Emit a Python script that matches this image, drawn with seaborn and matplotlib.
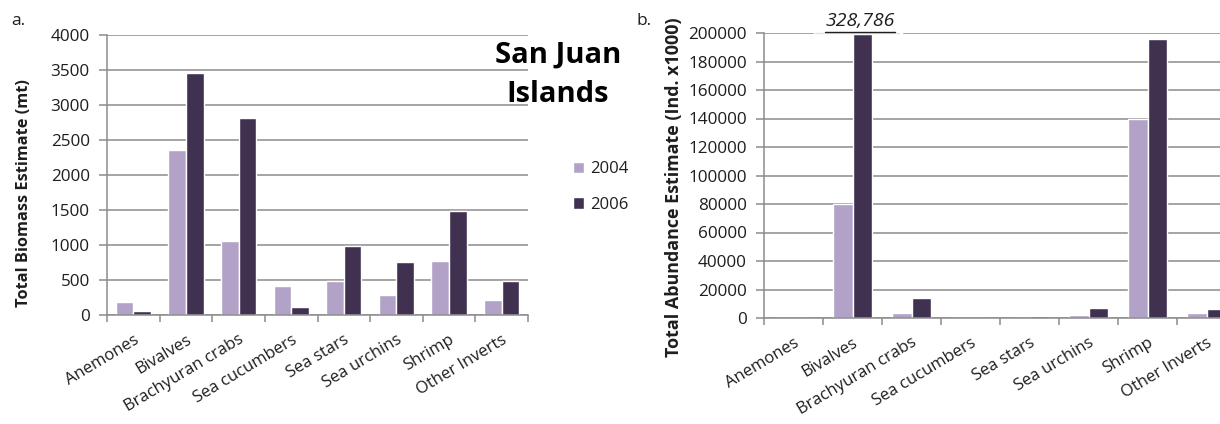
import numpy as np
import pandas as pd
import matplotlib
matplotlib.use('Agg')
import matplotlib.pyplot as plt
import seaborn as sns

categories = ['Anemones', 'Bivalves', 'Brachyuran crabs', 'Sea cucumbers',
              'Sea stars', 'Sea urchins', 'Shrimp', 'Other Inverts']
years = ['2004', '2006']

biomass_2004 = [181, 2362, 1057, 410, 490, 286, 771, 214]
biomass_2006 = [57, 3462, 2814, 114, 990, 752, 1490, 490]

abundance_2004 = [30, 80000, 3500, 40, 150, 1900, 140000, 3500]
abundance_2006 = [40, 328786, 14000, 60, 1200, 7000, 196000, 6100]

biomass_ticks = [0, 500, 1000, 1500, 2000, 2500, 3000, 3500, 4000]
abundance_ticks = [0, 20000, 40000, 60000, 80000, 100000, 120000, 140000,
                   160000, 180000, 200000]

light = '#b3a2c7'
dark = '#403151'
grid_col = '#8c8c8c'
txt = '#1e1e1e'

sns.set_theme(style='white')
plt.rcParams['font.family'] = ['Open Sans', 'DejaVu Sans']


def make_df(v04, v06):
    return pd.DataFrame({
        'category': categories * 2,
        'year': [years[0]] * len(categories) + [years[1]] * len(categories),
        'value': list(v04) + list(v06),
    })


def style_axes(ax, ticks, ymax):
    ax.set_ylim(0, ymax)
    ax.set_xlim(-0.5, len(categories) - 0.5)
    ax.set_yticks(ticks)
    ax.set_yticklabels([str(t) for t in ticks], fontsize=12.3, color=txt)
    ax.yaxis.grid(True, color=grid_col, linewidth=1.1)
    ax.set_axisbelow(True)
    # category boundaries as major ticks, labels on minor ticks
    ax.set_xticks(np.arange(len(categories) + 1) - 0.5)
    ax.set_xticklabels([])
    ax.set_xticks(np.arange(len(categories)), minor=True)
    ax.set_xticklabels(categories, minor=True, rotation=31, ha='right',
                       rotation_mode='anchor', fontsize=12, color=txt)
    ax.tick_params(axis='x', which='major', length=5, width=1.1,
                   color=grid_col, bottom=True)
    ax.tick_params(axis='x', which='minor', length=0, pad=12, bottom=True)
    ax.tick_params(axis='y', length=5.5, width=1.1, color=grid_col, pad=7,
                   left=True)
    for s in ['top', 'right']:
        ax.spines[s].set_visible(False)
    for s in ['left', 'bottom']:
        ax.spines[s].set_color(grid_col)
        ax.spines[s].set_linewidth(1.1)
    ax.set_xlabel('')


fig = plt.figure(figsize=(12.2, 4.24), dpi=100)

# panel a
ax1 = fig.add_axes([107 / 1220, 1 - 315 / 424, 421 / 1220, 280 / 424])
sns.barplot(data=make_df(biomass_2004, biomass_2006), x='category', y='value',
            hue='year', palette=[light, dark], width=0.67, saturation=1,
            ax=ax1, legend=True)
style_axes(ax1, biomass_ticks, 4000)
ax1.set_ylabel('Total Biomass Estimate (mt)', fontsize=11.8,
               fontweight='bold', color=txt)
ax1.yaxis.set_label_coords(-0.178, 0.436)
leg = ax1.legend(loc='center left', bbox_to_anchor=(566 / 1220, 1 - 187 / 424),
                 bbox_transform=fig.transFigure, borderaxespad=0,
                 frameon=False, fontsize=12, handlelength=0.7,
                 handleheight=0.7, handletextpad=0.35, labelspacing=1.15)
for t in leg.get_texts():
    t.set_color(txt)
fig.text(558 / 1220, 1 - 75 / 424, 'San Juan\nIslands', ha='center',
         va='center', fontsize=21, fontweight='bold', color='black',
         linespacing=1.45)
fig.text(11 / 1220, 1 - 21 / 424, 'a.', fontsize=12.5, color=txt,
         va='center')

# panel b
ax2 = fig.add_axes([764 / 1220, 1 - 318 / 424, 472 / 1220, 285 / 424])
sns.barplot(data=make_df(abundance_2004, abundance_2006), x='category',
            y='value', hue='year', palette=[light, dark], width=0.67,
            saturation=1, ax=ax2, legend=False)
style_axes(ax2, abundance_ticks, 200000)
ax2.set_ylabel('Total Abundance Estimate (Ind. x1000)', fontsize=12.9,
               fontweight='bold', color=txt)
ax2.yaxis.set_label_coords(-0.172, 0.458)
fig.text(636 / 1220, 1 - 21 / 424, 'b.', fontsize=12.5, color=txt,
         va='center')

# off-scale value for bivalves 2006
bx = categories.index('Bivalves') + 0.167
xt = ax2.get_xaxis_transform()
ax2.plot([bx - 0.8, bx + 0.65], [1.0, 1.0], color='white', lw=2.5,
         transform=xt, clip_on=False, zorder=5)
ax2.plot([bx - 0.8, bx + 0.62], [1.0, 1.0], color='#e3e3e3', lw=1,
         transform=xt, clip_on=False, zorder=6)
ax2.text(bx - 0.03, 1.01, f'{abundance_2006[1]:,}', style='italic',
         fontsize=14, color=txt, ha='center', va='bottom', transform=xt)
ax2.plot([bx - 0.63, bx + 0.56], [1.004, 1.004], color=txt, lw=1,
         transform=xt, clip_on=False, zorder=7)

fig.savefig('out.png', dpi=100)
